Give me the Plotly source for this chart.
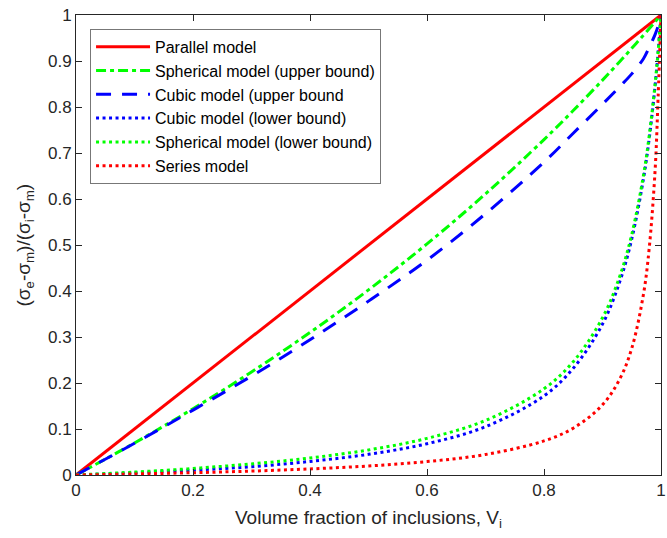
import plotly.graph_objects as go

# ---- data ----
vol_fraction = [0, 0.1, 0.2, 0.3, 0.4, 0.5, 0.6, 0.7, 0.8, 0.85, 0.9, 0.93, 0.95, 0.97, 0.98, 0.99, 0.995, 1.0]

parallel_x = [0, 1]
parallel_y = [0, 1]

spherical_upper = [0, 0.0696, 0.1441, 0.2240, 0.3098, 0.4024, 0.5025, 0.6111, 0.7292, 0.7923,
                   0.8584, 0.8995, 0.9275, 0.9561, 0.9706, 0.9852, 0.9926, 1.0]
cubic_upper = [0, 0.069, 0.141, 0.215, 0.294, 0.378, 0.467, 0.568, 0.680, 0.743,
               0.806, 0.845, 0.872, 0.905, 0.930, 0.958, 0.976, 1.0]
cubic_lower = [0, 0.0045, 0.0105, 0.018, 0.0295, 0.045, 0.068, 0.105, 0.172, 0.232,
               0.328, 0.422, 0.513, 0.644, 0.733, 0.847, 0.918, 1.0]
spherical_lower = [0, 0.0064, 0.0142, 0.0241, 0.0370, 0.0545, 0.0797, 0.1186, 0.1875, 0.2464,
                   0.3418, 0.4339, 0.5229, 0.6510, 0.7387, 0.8510, 0.920, 1.0]
series = [0, 0.0022, 0.0050, 0.0085, 0.0132, 0.0196, 0.0291, 0.0446, 0.0741, 0.1018,
          0.1525, 0.2099, 0.2754, 0.3927, 0.4950, 0.6644, 0.8196, 1.0]

names = ["Parallel model", "Spherical model (upper bound)", "Cubic model (upper bound",
         "Cubic model (lower bound)", "Spherical model (lower bound)", "Series model"]

x_ticks = [0, 0.2, 0.4, 0.6, 0.8, 1]
x_tick_text = ["0", "0.2", "0.4", "0.6", "0.8", "1"]
y_ticks = [0, 0.1, 0.2, 0.3, 0.4, 0.5, 0.6, 0.7, 0.8, 0.9, 1]
y_tick_text = ["0", "0.1", "0.2", "0.3", "0.4", "0.5", "0.6", "0.7", "0.8", "0.9", "1"]

x_title = "Volume fraction of inclusions, V<sub>i</sub>"
y_title = "(σ<sub>e</sub>-σ<sub>m</sub>)/(σ<sub>i</sub>-σ<sub>m</sub>)"

RED = "#ff0000"
GREEN = "#00ff00"
BLUE = "#0000ff"
LW = 3
DOT = "3px,3.5px"

fig = go.Figure()
fig.add_trace(go.Scatter(x=parallel_x, y=parallel_y, mode="lines", name=names[0],
                         line=dict(color=RED, width=LW)))
fig.add_trace(go.Scatter(x=vol_fraction, y=spherical_upper, mode="lines", name=names[1],
                         line=dict(color=GREEN, width=LW, dash="10px,4px,4px,4px", shape="spline")))
fig.add_trace(go.Scatter(x=vol_fraction, y=cubic_upper, mode="lines", name=names[2],
                         line=dict(color=BLUE, width=LW, dash="15px,11px", shape="spline")))
fig.add_trace(go.Scatter(x=vol_fraction, y=cubic_lower, mode="lines", name=names[3],
                         line=dict(color=BLUE, width=LW, dash=DOT, shape="spline")))
fig.add_trace(go.Scatter(x=vol_fraction, y=spherical_lower, mode="lines", name=names[4],
                         line=dict(color=GREEN, width=LW, dash=DOT, shape="spline")))
fig.add_trace(go.Scatter(x=vol_fraction, y=series, mode="lines", name=names[5],
                         line=dict(color=RED, width=LW, dash=DOT, shape="spline")))

AX = "#262626"
FONT = "Liberation Sans, Arial, sans-serif"
axis_common = dict(showline=True, linecolor=AX, linewidth=1, mirror="ticks",
                   ticks="inside", ticklen=6, tickcolor=AX, tickwidth=1,
                   showgrid=False, zeroline=False, ticklabeloverflow="allow",
                   tickfont=dict(family=FONT, size=17, color=AX))

fig.update_layout(
    width=667, height=538,
    margin=dict(l=76, r=1, t=15, b=63),
    paper_bgcolor="white", plot_bgcolor="white",
    font=dict(family=FONT, color=AX),
    xaxis=dict(range=[0, 1], tickvals=x_ticks, ticktext=x_tick_text,
               title=dict(text=x_title, font=dict(family=FONT, size=19, color=AX), standoff=11),
               **axis_common),
    yaxis=dict(range=[0, 1], tickvals=y_ticks, ticktext=y_tick_text, **axis_common),
    annotations=[dict(text=y_title, xref="paper", yref="paper", x=-0.088, y=0.5,
                      xanchor="center", yanchor="middle", textangle=-90, showarrow=False,
                      font=dict(family=FONT, size=19, color=AX))],
    legend=dict(x=0.024, y=0.97, xanchor="left", yanchor="top",
                bgcolor="white", bordercolor="#777777", borderwidth=1,
                font=dict(family=FONT, size=16, color="black"),
                itemwidth=54, tracegroupgap=0),
    showlegend=True,
)

fig.write_html("out.html", config={"displayModeBar": False},
               post_script="document.body.style.margin='0';document.body.style.overflow='hidden';")
